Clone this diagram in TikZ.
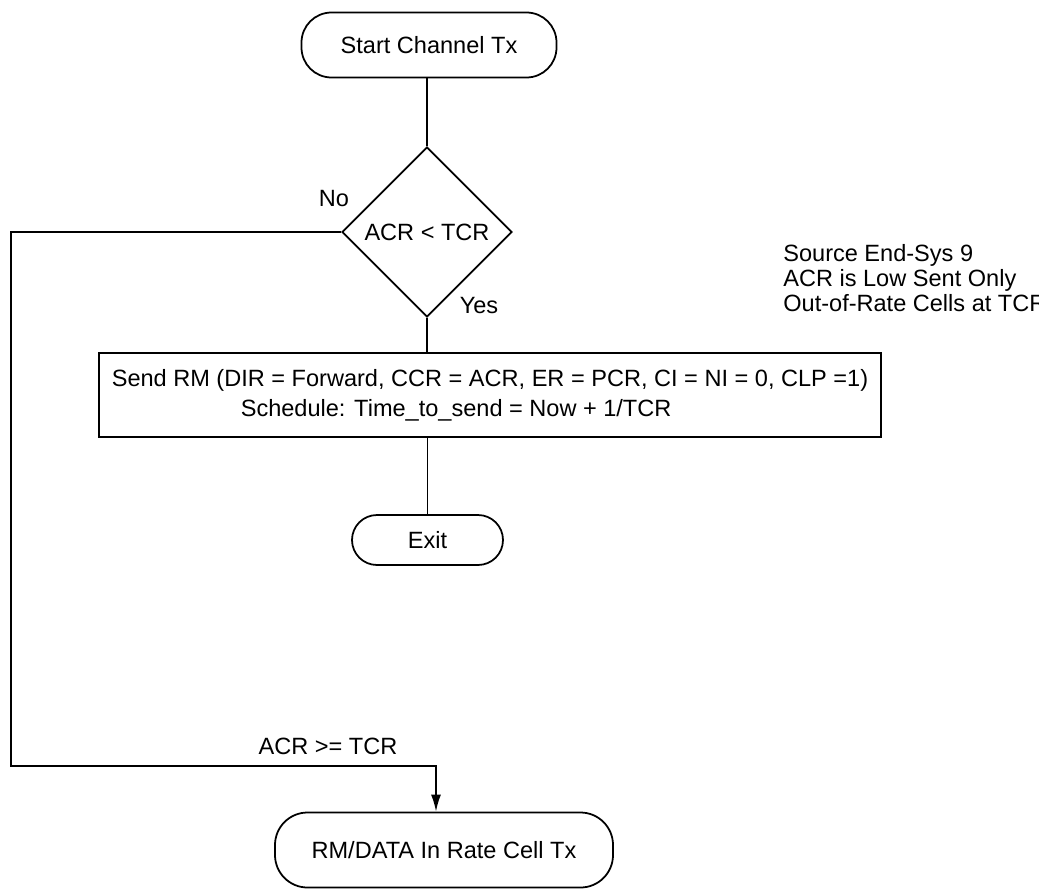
\documentclass[tikz,border=0pt]{standalone}
\usepackage{fontspec}
\setmainfont{Liberation Sans}
\usepackage{tikz}
\usetikzlibrary{arrows.meta,positioning,shapes.geometric,calc}

\begin{document}
\begin{tikzpicture}[
x=0.2mm, y=-0.2mm,
every node/.style={font=\fontsize{13.4pt}{17pt}\selectfont},
term/.style={draw, line width=1pt, rounded corners=6mm, minimum height=13mm, align=center},
decide/.style={draw, line width=1pt, diamond, minimum width=34mm, minimum height=34mm, inner sep=0pt},
proc/.style={draw, line width=1pt, minimum width=156.4mm, minimum height=16.8mm, align=left, inner sep=0pt},
lbl/.style={inner sep=0pt},
arr/.style={-{Latex[length=3.4mm,width=2mm]}, line width=1pt},
ln/.style={line width=1pt}
]
\clip (0,0) rectangle (1039,890);

\node[term, minimum width=51mm] (start) at (429,45) {Start Channel Tx};
\node[decide] (dec) at (427,232) {ACR < TCR};
\node[proc] (send) at (490,395) {Send RM (DIR = Forward, CCR = ACR, ER = PCR, CI = NI = 0, CLP =1)\\
\hspace*{25.8mm}Schedule: Time\_to\_send = Now + 1/TCR};
\node[term, rounded corners=5mm, minimum width=30.2mm, minimum height=10mm] (exit) at (427.5,540) {Exit};
\node[term, rounded corners=6.5mm, minimum width=67.6mm, minimum height=15mm] (rmdata) at (444,850) {RM/DATA In Rate Cell Tx};

% branch labels
\node[lbl] (no) at (334,199) {No};
\node[lbl] (yes) at (479,306) {Yes};
\node[lbl] (ge) at (328,746) {ACR >= TCR};
\node[lbl, anchor=west, align=left, font=\fontsize{13.4pt}{14.2pt}\selectfont] (note) at (783,278)
  {Source End-Sys 9\\ACR is Low Sent Only\\Out-of-Rate Cells at TCR};

\coordinate (bend) at (11,766);
\coordinate (drop) at (436,766);

\draw[ln] (start.south -| dec.north) -- (dec.north);
\draw[ln] (dec.south) -- (dec.south |- send.north);
\draw[ln] (exit.north |- send.south) -- (exit.north);
\draw[arr] (dec.west) -| (bend) -- (drop) -- (drop |- rmdata.north);
\end{tikzpicture}
\end{document}
